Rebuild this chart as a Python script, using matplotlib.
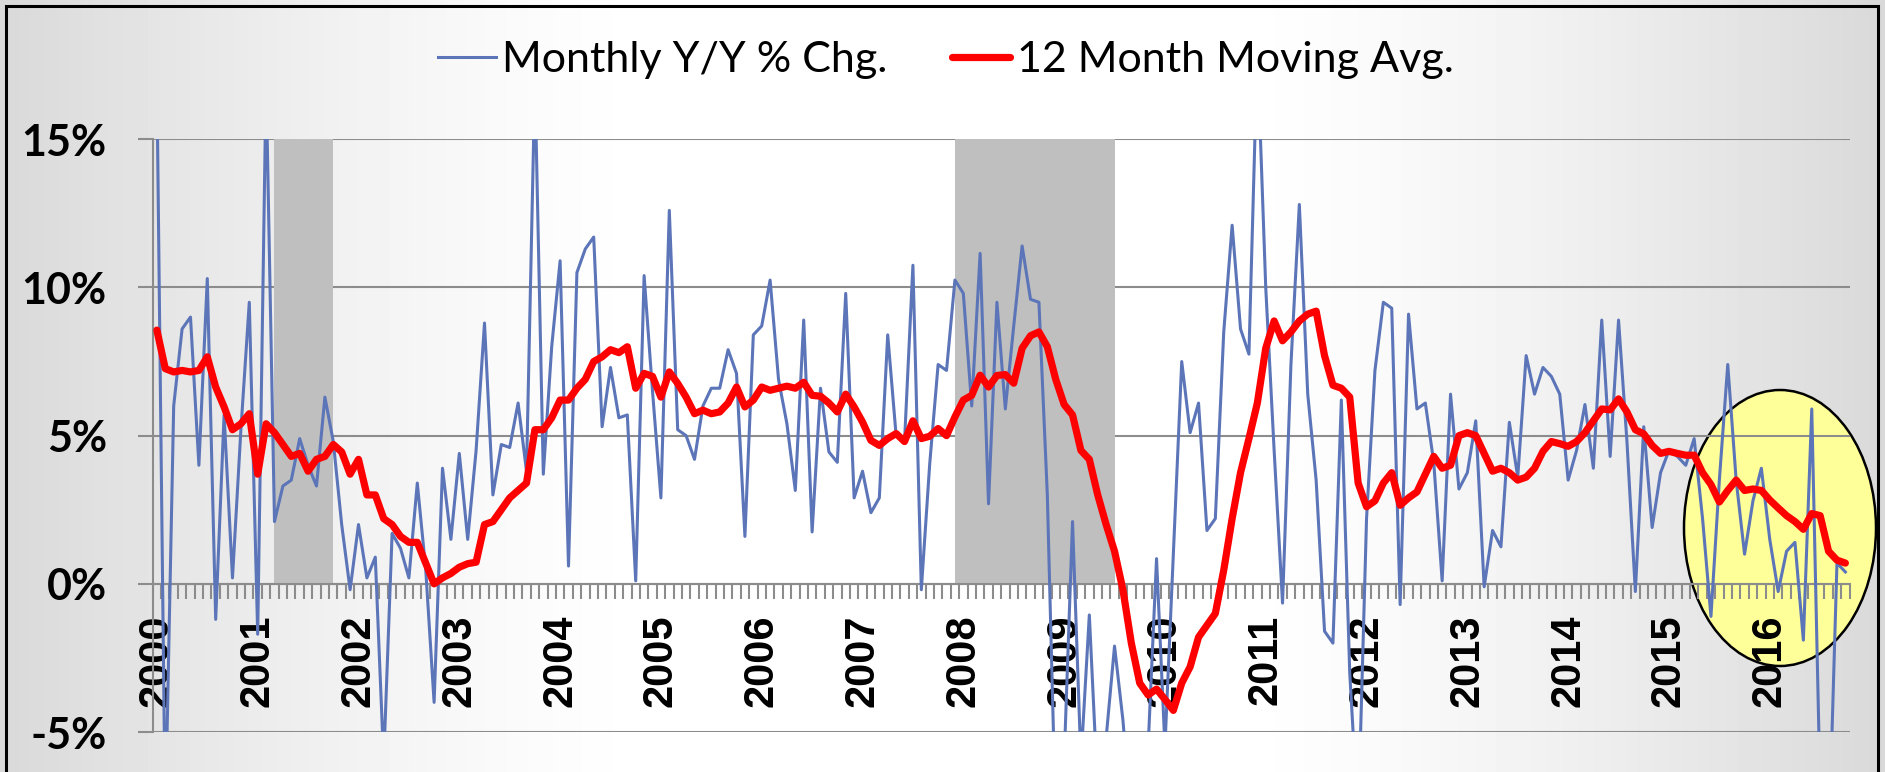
'''
Monthly Y/Y % change with 12 month moving average, recession shading
'''

import numpy as np
import matplotlib.pyplot as plt
from matplotlib.patches import Ellipse, Rectangle

plt.rcParams['font.family'] = ['Lato', 'DejaVu Sans']

# monthly values, Jan 2000 .. Oct 2016 (% y/y)
monthly = [
    17, -8, 6.0, 8.6, 9.0, 4.0, 10.3, -1.2, 5.7, 0.2, 5.2, 9.5,
    -1.7, 17, 2.1, 3.3, 3.5, 4.9, 4.0, 3.3, 6.3, 4.8, 2.0, -0.2,
    2.0, 0.2, 0.9, -6, 1.7, 1.2, 0.2, 3.4, 0.5, -4.0, 3.9, 1.5,
    4.4, 1.5, 4.5, 8.8, 3.0, 4.7, 4.6, 6.1, 3.8, 17, 3.7, 8.0,
    10.9, 0.6, 10.5, 11.3, 11.7, 5.3, 7.3, 5.6, 5.7, 0.1, 10.4, 6.5,
    2.9, 12.6, 5.2, 5.0, 4.2, 6.0, 6.6, 6.6, 7.9, 7.1, 1.6, 8.4,
    8.7, 10.25, 6.9, 5.4, 3.15, 8.9, 1.75, 6.6, 4.45, 4.1, 9.8, 2.9,
    3.8, 2.4, 2.9, 8.4, 5.0, 4.8, 10.75, -0.2, 4.05, 7.4, 7.2, 10.25,
    9.8, 6.0, 11.15, 2.7, 9.5, 5.9, 8.7, 11.4, 9.6, 9.5, 3.0, -8,
    -6, 2.1, -6, -1.05, -7, -5.2, -2.1, -4.6, -8, -8, -5.5, 0.85,
    -5.5, 1.0, 7.5, 5.1, 6.1, 1.8, 2.2, 8.5, 12.1, 8.6, 7.75, 18,
    10.0, 4.5, -0.65, 7.4, 12.8, 6.4, 3.5, -1.6, -2.0, 6.2, -3, -8,
    2.2, 7.2, 9.5, 9.3, -0.7, 9.1, 5.9, 6.1, 4.1, 0.1, 6.4, 3.2,
    3.75, 5.5, -0.1, 1.8, 1.25, 5.45, 3.6, 7.7, 6.4, 7.3, 7.0, 6.4,
    3.5, 4.5, 6.05, 3.9, 8.9, 4.3, 8.9, 4.8, -0.26, 5.3, 1.9, 3.75,
    4.5, 4.3, 4.0, 4.9, 2.2, -1.1, 3.5, 7.4, 3.5, 1.0, 2.8, 3.9,
    1.5, -0.26, 1.1, 1.4, -1.9, 5.9, -7, -9, 0.7, 0.4,
]

moving_avg = [
    8.56, 7.26, 7.15, 7.2, 7.15, 7.2, 7.66, 6.64, 5.97, 5.2, 5.4, 5.74,
    3.7, 5.4, 5.1, 4.7, 4.3, 4.4, 3.8, 4.2, 4.3, 4.7, 4.45, 3.7,
    4.2, 3.0, 3.0, 2.2, 2.0, 1.6, 1.4, 1.4, 0.7, 0.0, 0.2, 0.35,
    0.56, 0.68, 0.73, 2.0, 2.1, 2.5, 2.9, 3.15, 3.4, 5.2, 5.2, 5.6,
    6.2, 6.2, 6.6, 6.9, 7.5, 7.66, 7.9, 7.8, 8.0, 6.6, 7.1, 7.0,
    6.3, 7.15, 6.76, 6.3, 5.74, 5.86, 5.74, 5.8, 6.1, 6.64, 5.97, 6.2,
    6.64, 6.53, 6.6, 6.67, 6.6, 6.8, 6.36, 6.33, 6.1, 5.8, 6.4, 5.97,
    5.46, 4.84, 4.67, 4.9, 5.07, 4.8, 5.5, 4.9, 4.98, 5.24, 5.0, 5.63,
    6.2, 6.36, 7.04, 6.64, 7.03, 7.06, 6.77, 7.95, 8.37, 8.5, 8.0, 6.9,
    6.05, 5.7, 4.5, 4.2, 3.0, 2.0, 1.1, -0.2, -2.0, -3.35, -3.75, -3.55,
    -3.9, -4.27, -3.35, -2.8, -1.8, -1.4, -1.0, 0.46, 2.2, 3.75, 4.9, 6.1,
    7.95, 8.87, 8.2, 8.5, 8.87, 9.1, 9.2, 7.7, 6.7, 6.6, 6.3, 3.4,
    2.6, 2.8, 3.4, 3.75, 2.65, 2.9, 3.1, 3.7, 4.3, 3.9, 4.0, 5.0,
    5.1, 5.0, 4.4, 3.8, 3.9, 3.75, 3.5, 3.6, 3.9, 4.47, 4.8, 4.73,
    4.64, 4.8, 5.1, 5.5, 5.9, 5.87, 6.24, 5.8, 5.2, 5.06, 4.67, 4.4,
    4.47, 4.4, 4.34, 4.34, 3.75, 3.35, 2.76, 3.15, 3.5, 3.15, 3.2, 3.15,
    2.83, 2.56, 2.3, 2.1, 1.84, 2.37, 2.3, 1.1, 0.8, 0.7,
]

years = list(range(2000, 2017))
recessions = [("2001-03", "2001-10"), ("2007-12", "2009-07")]
y_ticks = [-5, 0, 5, 10, 15]
y_labels = ["-5%", "0%", "5%", "10%", "15%"]


def month_index(s):
    yr, mo = s.split("-")
    return (int(yr) - 2000) * 12 + int(mo) - 1


fig = plt.figure(figsize=(18.85, 7.72), dpi=100)

# soft grey-to-white background
bg = fig.add_axes([0, 0, 1, 1], zorder=-10)
u = np.linspace(0, 1, 600)
d = np.clip((np.abs(2 * u - 1) - 0.3) / 0.7, 0, 1)
shade = 1 - 0.15 * d ** 1.4
bg.imshow(shade[None, :], cmap="gray", vmin=0, vmax=1, aspect="auto",
          extent=[0, 1, 0, 1])
bg.set_axis_off()

grey = "#8C8C8C"
ax = fig.add_axes([0.0810, 0.0518, 0.9002, 0.7678])
ax.patch.set_visible(False)
ax.set_axisbelow(True)

# move the axis first, it resets the tick setup
ax.spines["bottom"].set_position(("data", 0))
for side in ["top", "right"]:
    ax.spines[side].set_visible(False)
for side in ["bottom", "left"]:
    ax.spines[side].set_color(grey)
    ax.spines[side].set_linewidth(1.5)

x = np.arange(len(monthly))
ax.plot(x, monthly, color="#5B75B8", lw=2.2, zorder=3,
        label="Monthly Y/Y % Chg.")
ax.plot(x, moving_avg, color="#FF0000", lw=5.2, zorder=4,
        solid_capstyle="round", solid_joinstyle="round",
        label="12 Month Moving Avg.")

for start, end in recessions:
    ax.fill_between([month_index(start), month_index(end)], 0, 15,
                    color="#BFBFBF", lw=0, zorder=2)

ax.set_xlim(-0.5, len(monthly) - 0.5)
ax.set_ylim(-5, 15)

ax.set_yticks(y_ticks)
ax.set_yticklabels(y_labels, fontsize=31, fontweight="bold")
ax.yaxis.grid(True, color=grey, lw=1.5)
ax.tick_params(axis="y", length=11, width=1.5, color=grey, pad=22)

ax.set_xticks([(yr - 2000) * 12 for yr in years])
ax.set_xticklabels([str(yr) for yr in years], rotation=90, fontsize=30,
                   fontweight="bold", family="Liberation Sans")
ax.set_xticks(np.arange(-0.5, len(monthly), 1), minor=True)
ax.tick_params(axis="x", which="major", length=0, pad=22)
ax.tick_params(axis="x", which="minor", length=11, width=1.5, color=grey)

# highlight of the latest readings
ax.add_patch(Ellipse((1780 / 1885, 1 - 528 / 772), 192 / 1885, 276 / 772,
                     transform=fig.transFigure, facecolor="#FFFF99",
                     edgecolor="black", lw=1.8, zorder=0.4, clip_on=False))

ax.legend(loc="center", bbox_to_anchor=(0.5016, 0.9223),
          bbox_transform=fig.transFigure, ncol=2, frameon=False,
          fontsize=31, handlelength=1.35, handletextpad=0.15,
          columnspacing=1.5)

fig.add_artist(Rectangle((6 / 1885, -0.05), 1872 / 1885, 1.05 - 6 / 772,
                         transform=fig.transFigure, fill=False,
                         edgecolor="black", lw=2.2))

fig.savefig("out.png", dpi=100)
